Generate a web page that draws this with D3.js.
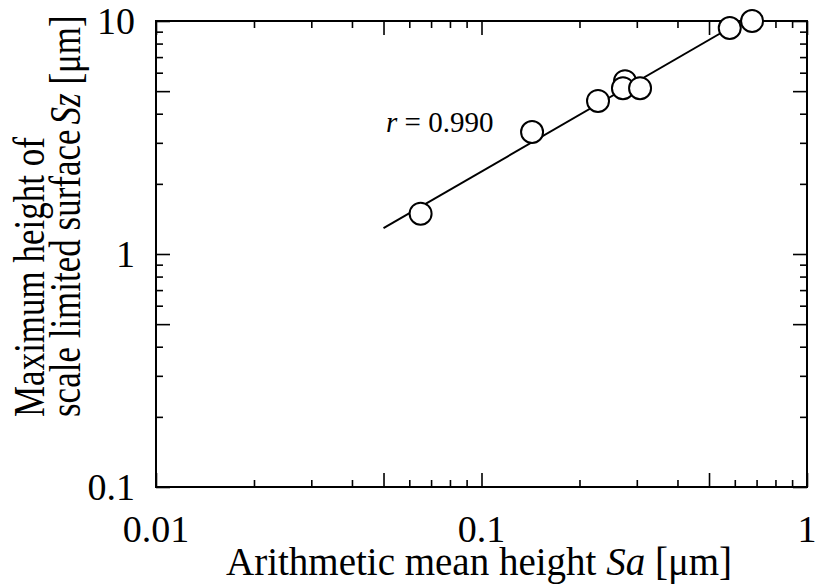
<!DOCTYPE html>
<html>
<head>
<meta charset="utf-8">
<script src="https://cdn.jsdelivr.net/npm/d3@7"></script>
<style>
  body { margin: 0; background: #fff; }
  svg { display: block; }
</style>
</head>
<body>
<div id="chart"></div>
<script>
// Sa vs Sz measurements (log-log)
const sa = [0.065, 0.143, 0.228, 0.276, 0.272, 0.307, 0.579, 0.678];
const sz = [1.49, 3.34, 4.54, 5.52, 5.15, 5.15, 9.33, 10.0];

// regression line end points
const fitX = [0.05, 0.63];
const fitY = [1.29, 10.0];

// axis ticks
const xMajor = [0.01, 0.1, 1];
const xMid = [0.05, 0.5];
const xMinor = [0.02, 0.03, 0.04, 0.06, 0.07, 0.08, 0.09, 0.2, 0.3, 0.4, 0.6, 0.7, 0.8, 0.9];
const xLabels = ['0.01', '0.1', '1'];
const yMajor = [0.1, 1, 10];
const yMid = [0.5, 5];
const yMinor = [0.2, 0.3, 0.4, 0.6, 0.7, 0.8, 0.9, 2, 3, 4, 6, 7, 8, 9];
const yLabels = ['0.1', '1', '10'];

const width = 816, height = 587;
const margin = {top: 21, right: 9, bottom: 100, left: 156};
const serif = '"Liberation Serif"';

const svg = d3.select('#chart').append('svg')
  .attr('width', width)
  .attr('height', height);

const x = d3.scaleLog().domain([0.01, 1]).range([margin.left, width - margin.right]);
const y = d3.scaleLog().domain([0.1, 10]).range([height - margin.bottom, margin.top]);

const longTick = 14, shortTick = 7;

// ticks pointing inward on all four sides
function addTicks(axisFn, pos, vals, len) {
  const g = svg.append('g')
    .call(axisFn.tickValues(vals).tickSize(-len).tickFormat(''));
  g.attr('transform', pos);
  g.select('.domain').remove();
  g.selectAll('line').attr('stroke', '#000').attr('stroke-width', 1.6);
}
const bottomY = `translate(0,${height - margin.bottom})`;
const topY = `translate(0,${margin.top})`;
const leftX = `translate(${margin.left},0)`;
const rightX = `translate(${width - margin.right},0)`;

addTicks(d3.axisBottom(x), bottomY, xMajor.concat(xMid), longTick);
addTicks(d3.axisBottom(x), bottomY, xMinor, shortTick);
addTicks(d3.axisTop(x), topY, xMajor.concat(xMid), longTick);
addTicks(d3.axisTop(x), topY, xMinor, shortTick);
addTicks(d3.axisLeft(y), leftX, yMajor.concat(yMid), longTick);
addTicks(d3.axisLeft(y), leftX, yMinor, shortTick);
addTicks(d3.axisRight(y), rightX, yMajor.concat(yMid), longTick);
addTicks(d3.axisRight(y), rightX, yMinor, shortTick);

// frame
svg.append('rect')
  .attr('x', margin.left)
  .attr('y', margin.top)
  .attr('width', width - margin.left - margin.right)
  .attr('height', height - margin.top - margin.bottom)
  .attr('fill', 'none')
  .attr('stroke', '#000')
  .attr('stroke-width', 2);

function txt(sel) {
  return sel.style('font-family', serif).attr('fill', '#000');
}

// tick labels
txt(svg.append('g').selectAll('text')
  .data(xMajor)
  .enter().append('text'))
  .attr('x', d => x(d))
  .attr('y', 542)
  .attr('text-anchor', 'middle')
  .style('font-size', '38px')
  .text((d, i) => xLabels[i]);

txt(svg.append('g').selectAll('text')
  .data(yMajor)
  .enter().append('text'))
  .attr('x', 135)
  .attr('y', d => y(d))
  .attr('dy', '0.34em')
  .attr('text-anchor', 'end')
  .style('font-size', '38px')
  .text((d, i) => yLabels[i]);

// axis titles
const xt = txt(svg.append('text'))
  .attr('x', 226)
  .attr('y', 575)
  .style('font-size', '39px');
xt.append('tspan').text('Arithmetic mean height ');
xt.append('tspan').style('font-style', 'italic').text('Sa');
xt.append('tspan').text(' [μm]');

// y title: glyphs look stretched across the page in the reference
const yt = svg.append('g').attr('transform', 'translate(0,417) rotate(-90) scale(1,1.28)');
txt(yt.append('text'))
  .attr('x', 0).attr('y', 34)
  .style('font-size', '35px')
  .text('Maximum height of');
const yt2 = txt(yt.append('text'))
  .attr('x', 0).attr('y', 62.5)
  .style('font-size', '35px');
yt2.append('tspan').text('scale limited surface');
yt2.append('tspan').attr('dx', 5).style('font-style', 'italic').text('Sz');
yt2.append('tspan').text(' [μm]');

// regression line
svg.append('line')
  .attr('x1', x(fitX[0])).attr('y1', y(fitY[0]))
  .attr('x2', x(fitX[1])).attr('y2', y(fitY[1]))
  .attr('stroke', '#000')
  .attr('stroke-width', 2);

// points
svg.append('g').selectAll('circle')
  .data(sa)
  .enter().append('circle')
  .attr('cx', d => x(d))
  .attr('cy', (d, i) => y(sz[i]))
  .attr('r', 11)
  .attr('fill', '#fff')
  .attr('stroke', '#000')
  .attr('stroke-width', 2);

// correlation annotation
const rt = txt(svg.append('text'))
  .attr('x', 386)
  .attr('y', 132)
  .style('font-size', '29px');
rt.append('tspan').style('font-style', 'italic').text('r');
rt.append('tspan').text(' = 0.990');
</script>
</body>
</html>
